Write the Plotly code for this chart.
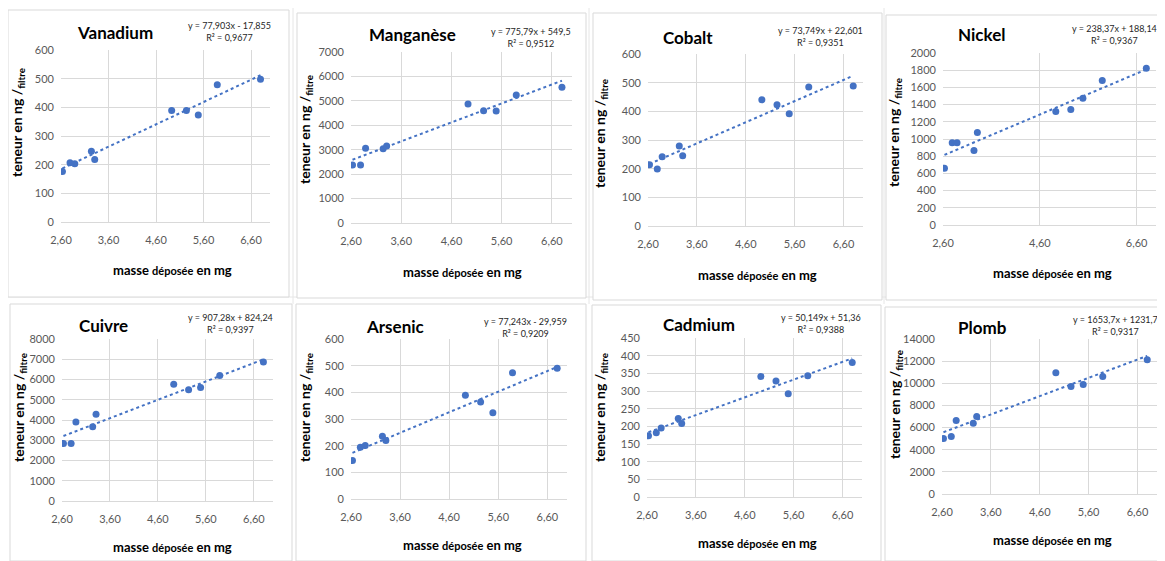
import plotly.graph_objects as go

W, H = 1165, 561
OFF = 8  # page body margin compensation

# ---------------- data ----------------
masse = [2.63, 2.79, 2.89, 3.24, 3.31, 4.93, 5.24, 5.49, 5.89, 6.80]
elements = ["Vanadium", "Manganèse", "Cobalt", "Nickel",
            "Cuivre", "Arsenic", "Cadmium", "Plomb"]
vanadium = [176, 207, 203, 247, 218, 389, 389, 373, 479, 498]
manganese = [2374, 2374, 3056, 3042, 3151, 4870, 4598, 4584, 5239, 5552]
cobalt = [214, 199, 242, 279, 245, 440, 423, 392, 485, 488]
nickel = [661, 955, 955, 867, 1075, 1319, 1342, 1474, 1679, 1822]
cuivre = [2843, 2843, 3901, 3669, 4281, 5769, 5488, 5603, 6198, 6860]
arsenic = [144, 194, 201, 235, 219, 389, 364, 323, 473, 490]
cadmium = [173, 182, 195, 222, 208, 341, 328, 292, 343, 381]
plomb = [5009, 5190, 6638, 6397, 7000, 10953, 9716, 9897, 10621, 12130]
teneurs = [vanadium, manganese, cobalt, nickel, cuivre, arsenic, cadmium, plomb]

pentes = [77.903, 775.79, 73.749, 238.37, 907.28, 77.243, 50.149, 1653.7]
ordonnees = [-17.855, 549.5, 22.601, 188.14, 824.24, -29.959, 51.36, 1231.7]
equations = ["y = 77,903x - 17,855", "y = 775,79x + 549,5", "y = 73,749x + 22,601",
             "y = 238,37x + 188,14", "y = 907,28x + 824,24", "y = 77,243x - 29,959",
             "y = 50,149x + 51,36", "y = 1653,7x + 1231,7"]
r2 = ["0,9677", "0,9512", "0,9351", "0,9367", "0,9397", "0,9209", "0,9388", "0,9317"]
ymax = [600, 7000, 600, 2000, 8000, 600, 450, 14000]
ystep = [100, 1000, 100, 200, 1000, 100, 50, 2000]
xstep = [1, 1, 1, 2, 1, 1, 1, 1]
xrange_ = [2.6, 7.0]

# ---------------- layout geometry (screen pixels) ----------------
plot_box = [(61, 270, 50, 222), (351, 572, 52, 223), (648, 863, 54, 226), (943, 1156, 53, 225),
            (62, 273, 339, 501), (351, 567, 339, 499), (647, 862, 338, 497), (942, 1157, 339, 494)]
panel_box = [(8, 289, 10, 297), (297, 586, 13, 298), (593, 882, 13, 300), (886, 1163, 15, 300),
             (10, 292, 304, 561), (296, 586, 304, 561), (592, 881, 305, 561), (885, 1163, 307, 561)]
title_pos = [(115, 33), (412, 35), (688, 37), (981, 35),
             (103, 325), (395, 326), (699, 324), (982, 327)]
eq_pos = [(229, 31), (531, 37), (820, 36), (1114, 35),
          (230, 323), (525, 327), (821, 323), (1115, 325)]
ytitle_pos = [(18, 123), (305, 130), (600, 134), (895, 133),
              (19, 408), (305, 408), (600, 408), (895, 405)]
xtitle_pos = [(172, 270), (462, 272), (757, 275), (1052, 273),
              (172, 547), (462, 545), (757, 543), (1052, 540)]
# faint spreadsheet cell lines visible between the charts
sheet_h = [(0, 1165, 297), (0, 1165, 3)]
sheet_v = [(3, 0, 561), (293, 0, 304), (589, 0, 304), (884, 0, 304)]

def px(x):
    return (x - OFF) / W

def py(y):
    return 1 - (y - OFF) / H

BLUE = "#4472C4"
FONT = "Lato"
GRID = "#d9d9d9"

fig = go.Figure()
layout = dict(
    template="none",
    width=W, height=H, autosize=False,
    margin=dict(l=0, r=0, t=0, b=0, pad=0),
    paper_bgcolor="white", plot_bgcolor="white",
    showlegend=False, separators=", ",
    font=dict(family=FONT, color="#595959", size=11),
)
shapes = []
annotations = []

for (x0, x1, y) in sheet_h:
    shapes.append(dict(type="line", xref="paper", yref="paper",
                       x0=px(x0), x1=px(x1), y0=py(y), y1=py(y),
                       line=dict(color="#e6e6e6", width=1), layer="below"))
for (x, y0, y1) in sheet_v:
    shapes.append(dict(type="line", xref="paper", yref="paper",
                       x0=px(x), x1=px(x), y0=py(y0), y1=py(y1),
                       line=dict(color="#e6e6e6", width=1), layer="below"))

for i, name in enumerate(elements):
    k = "" if i == 0 else str(i + 1)
    xa, ya = "x" + k, "y" + k
    # panel border (white chart area)
    l, r, t, b = panel_box[i]
    shapes.append(dict(type="rect", xref="paper", yref="paper",
                       x0=px(l), x1=px(r), y0=py(b), y1=py(t),
                       fillcolor="white",
                       line=dict(color=GRID, width=1), layer="below"))
    # data
    fig.add_trace(go.Scatter(x=masse, y=teneurs[i], mode="markers", xaxis=xa, yaxis=ya,
                             marker=dict(color=BLUE, size=7, line=dict(width=0))))
    xs = [masse[0], masse[-1]]
    ys = [pentes[i] * v + ordonnees[i] for v in xs]
    fig.add_trace(go.Scatter(x=xs, y=ys, mode="lines", xaxis=xa, yaxis=ya,
                             line=dict(color=BLUE, width=2, dash="dot")))
    pl, pr, pt, pb = plot_box[i]
    layout["xaxis" + k] = dict(domain=[px(pl), px(pr)], anchor=ya, range=xrange_,
                               tick0=2.6, dtick=xstep[i], tickformat=".2f",
                               showgrid=True, gridcolor=GRID, gridwidth=1,
                               showline=True, linecolor=GRID, linewidth=1, mirror=False,
                               zeroline=False, ticks="", ticklabelstandoff=8,
                               automargin=False,
                               tickfont=dict(family=FONT, size=11, color="#595959"),
                               fixedrange=True)
    layout["yaxis" + k] = dict(domain=[py(pb), py(pt)], anchor=xa, range=[0, ymax[i]],
                               dtick=ystep[i], tickformat="d",
                               showgrid=True, gridcolor=GRID, gridwidth=1,
                               showline=False, zeroline=False, ticks="",
                               ticklabelstandoff=6, automargin=False,
                               tickfont=dict(family=FONT, size=11, color="#595959"),
                               fixedrange=True)
    # title
    annotations.append(dict(text="<b>%s</b>" % name, x=px(title_pos[i][0]), y=py(title_pos[i][1]),
                            xref="paper", yref="paper", showarrow=False,
                            xanchor="center", yanchor="middle",
                            font=dict(family=FONT, size=17, color="black")))
    # equation
    annotations.append(dict(text="%s<br>R² = %s" % (equations[i], r2[i]),
                            x=px(eq_pos[i][0]), y=py(eq_pos[i][1]),
                            xref="paper", yref="paper", showarrow=False,
                            xanchor="center", yanchor="middle", align="center",
                            font=dict(family=FONT, size=9, color="#262626")))
    # axis titles
    annotations.append(dict(text="<b>teneur en ng /<sub>filtre</sub></b>",
                            x=px(ytitle_pos[i][0]), y=py(ytitle_pos[i][1]),
                            xref="paper", yref="paper", showarrow=False, textangle=-90,
                            xanchor="center", yanchor="middle",
                            font=dict(family=FONT, size=14, color="black")))
    annotations.append(dict(text="<b>masse <span style='font-size:11px'>déposée</span> en mg</b>",
                            x=px(xtitle_pos[i][0]), y=py(xtitle_pos[i][1]),
                            xref="paper", yref="paper", showarrow=False,
                            xanchor="center", yanchor="middle",
                            font=dict(family=FONT, size=13, color="black")))

layout["shapes"] = shapes
layout["annotations"] = annotations
fig.update_layout(**layout)
fig.write_html("out.html")
